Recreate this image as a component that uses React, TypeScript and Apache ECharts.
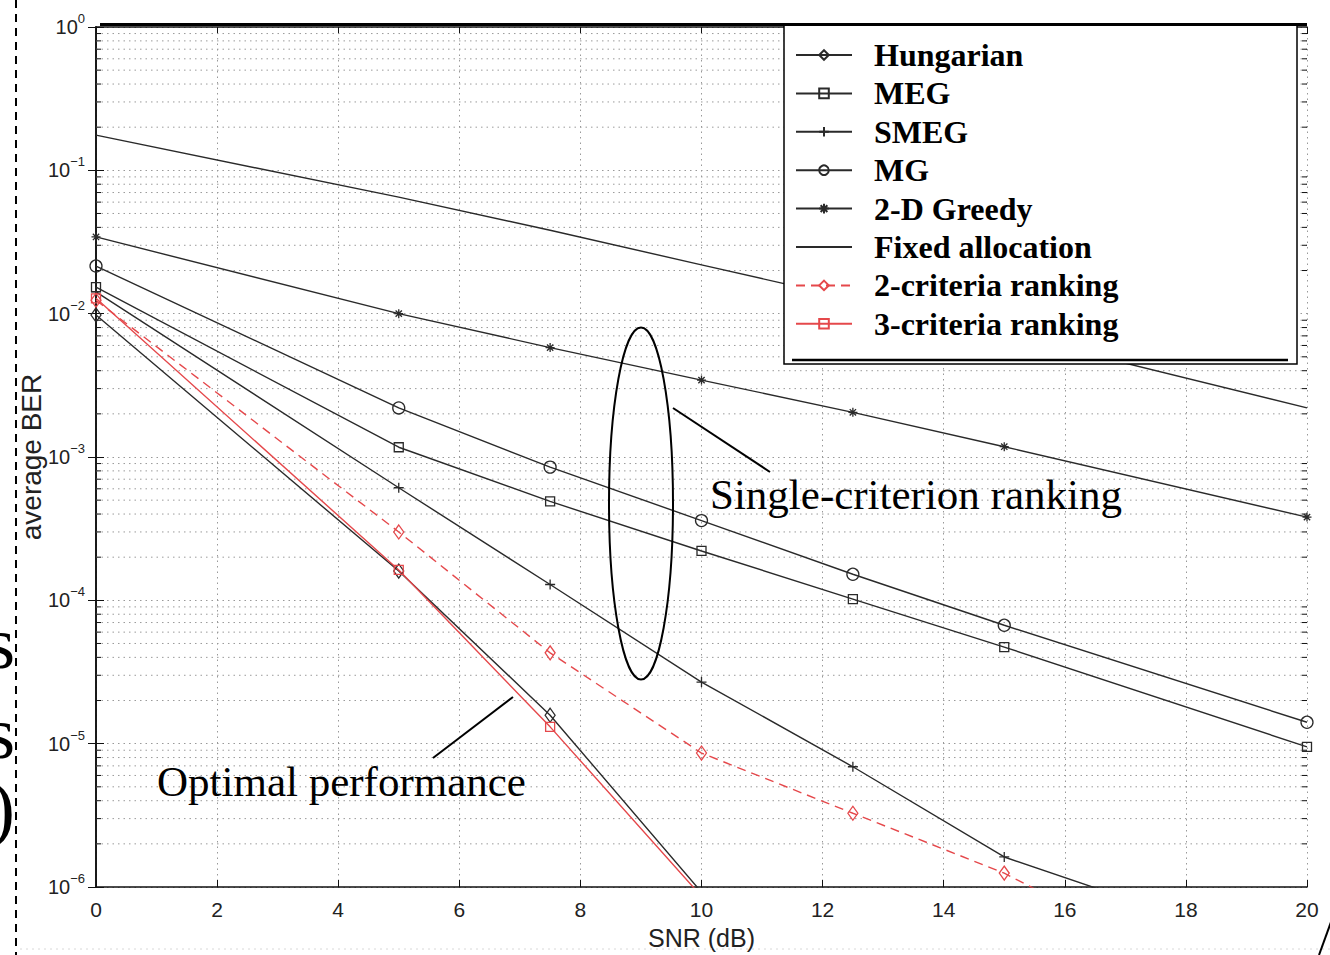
import React, { useEffect, useRef } from "react";
import * as echarts from "echarts";

// SNR sample points (dB)
const snrX = [0, 5, 7.5, 10, 12.5, 15, 20];

// average BER
const hungarian = [9.8e-3, 1.6e-4, 1.58e-5, 9.2e-7];
const meg = [0.0153, 1.17e-3, 4.9e-4, 2.21e-4, 1.02e-4, 4.72e-5, 9.5e-6];
const smeg = [0.0142, 6.1e-4, 1.29e-4, 2.69e-5, 6.9e-6, 1.62e-6, 3.1e-7];
const mg = [0.0215, 2.2e-3, 8.5e-4, 3.6e-4, 1.52e-4, 6.7e-5, 1.41e-5];
const greedy2D = [0.0343, 0.01, 5.8e-3, 3.44e-3, 2.05e-3, 1.18e-3, 3.81e-4];
const fixedAlloc = [0.176, 0.065, 0.0382, 0.0219, 0.0126, 0.0073, 0.0022];
const crit2 = [0.0124, 3.0e-4, 4.3e-5, 8.6e-6, 3.27e-6, 1.25e-6, 1.0e-7];
const crit3 = [0.0128, 1.63e-4, 1.31e-5, 8.6e-7];

const seriesNames = [
  "Hungarian",
  "MEG",
  "SMEG",
  "MG",
  "2-D Greedy",
  "Fixed allocation",
  "2-criteria ranking",
  "3-criteria ranking",
];

// x-axis ticks and log-axis minor grid values
const xTicks = [0, 2, 4, 6, 8, 10, 12, 14, 16, 18, 20];
const decadeExps = [-6, -5, -4, -3, -2, -1];
const minorMultipliers = [2, 3, 4, 5, 6, 7, 8, 9];

const BLACK = "#2a2a2a";
const RED = "#e5484b";

const pair = (vals: number[]) => vals.map((v, i) => [snrX[i], v]);

const plusPath = "path://M0,5L10,5M5,0L5,10";
const starPath = "path://M0,5L10,5M5,0L5,10M1.5,1.5L8.5,8.5M8.5,1.5L1.5,8.5";

export default function App() {
  const ref = useRef<HTMLDivElement>(null);

  useEffect(() => {
    if (!ref.current) return;
    const chart = echarts.init(ref.current, null, { renderer: "svg" });

    const minorVals: number[][] = [];
    decadeExps.forEach((e) =>
      minorMultipliers.forEach((m) => minorVals.push([0, m * Math.pow(10, e)]))
    );

    const hollow = (color: string) => ({
      color: "rgba(255,255,255,0)",
      borderColor: color,
      borderWidth: 1.3,
    });

    const mk = (
      name: string,
      vals: number[],
      color: string,
      symbol: string,
      size: any,
      dashed = false
    ) => ({
      type: "line",
      name,
      data: pair(vals),
      symbol,
      symbolSize: size,
      showSymbol: symbol !== "none",
      lineStyle: { color, width: 1.4, type: dashed ? [9, 6] : "solid" },
      itemStyle: hollow(color),
      z: 3,
      clip: true,
    });

    const axisFont = { fontFamily: "Liberation Sans, Arial, sans-serif", color: "#222" };

    const legendData = seriesNames.map((n) =>
      n === "Fixed allocation"
        ? {
            name: n,
            itemStyle: {
              color: "rgba(0,0,0,0)",
              borderColor: "rgba(0,0,0,0)",
              borderWidth: 0,
            },
          }
        : { name: n }
    );

    const option: any = {
      animation: false,
      backgroundColor: "#fff",
      grid: { left: 96, right: 23, top: 27, bottom: 68 },
      xAxis: [
        {
          type: "value",
          min: 0,
          max: 20,
          interval: 2,
          position: "bottom",
          axisLine: { show: true, lineStyle: { color: "#111", width: 1.6 } },
          axisTick: { inside: true, length: 7, lineStyle: { color: "#111" } },
          axisLabel: {
            ...axisFont,
            fontSize: 21,
            margin: 12,
            formatter: (v: number) => (xTicks.includes(v) ? String(v) : ""),
          },
          splitLine: {
            show: true,
            lineStyle: { color: "#999", width: 1, type: [1.5, 4] },
          },
          name: "SNR (dB)",
          nameLocation: "middle",
          nameGap: 38,
          nameMoveOverlap: false,
          nameTextStyle: { ...axisFont, fontSize: 25 },
        },
        {
          type: "value",
          min: 0,
          max: 20,
          interval: 2,
          position: "top",
          axisLine: { show: true, lineStyle: { color: "#111", width: 1.6 } },
          axisTick: { inside: true, length: 7, lineStyle: { color: "#111" } },
          axisLabel: { show: false },
          splitLine: { show: false },
        },
      ],
      yAxis: [
        {
          type: "log",
          logBase: 10,
          min: 1e-6,
          max: 1,
          splitNumber: 6,
          position: "left",
          axisLine: { show: true, lineStyle: { color: "#111", width: 1.6 } },
          axisTick: { inside: true, length: 8, lineStyle: { color: "#111" } },
          axisLabel: {
            margin: 11,
            formatter: (v: number) => {
              const e = Math.round(Math.log10(v));
              return `{b|10}{s|${e === 0 ? "0" : "\u2212" + -e}}`;
            },
            rich: {
              b: { ...axisFont, fontSize: 20, lineHeight: 30 },
              s: { ...axisFont, fontSize: 13, verticalAlign: "top", lineHeight: 30 },
            },
          },
          splitLine: {
            show: true,
            lineStyle: { color: "#999", width: 1, type: [1.5, 4] },
          },
          name: "average BER",
          nameLocation: "middle",
          nameGap: 51,
          nameMoveOverlap: false,
          nameTextStyle: { ...axisFont, fontSize: 28 },
        },
        {
          type: "log",
          logBase: 10,
          min: 1e-6,
          max: 1,
          splitNumber: 6,
          position: "right",
          axisLine: { show: true, lineStyle: { color: "#111", width: 1.6 } },
          axisTick: { inside: true, length: 8, lineStyle: { color: "#111" } },
          axisLabel: { show: false },
          splitLine: { show: false },
        },
      ],
      legend: {
        data: legendData,
        orient: "vertical",
        left: 790,
        top: 34,
        itemWidth: 56,
        itemHeight: 12,
        itemGap: 6.4,
        selectedMode: false,
        z: 6,
        textStyle: {
          fontFamily: "Liberation Serif, Times New Roman, serif",
          fontWeight: "bold",
          fontSize: 32,
          lineHeight: 32,
          color: "#000",
          padding: [0, 0, 0, 17],
        },
      },
      series: [
        {
          type: "custom",
          name: "minor-grid",
          data: minorVals,
          silent: true,
          z: 1,
          renderItem: (params: any, api: any) => {
            const v = api.value(1);
            const p0 = api.coord([0, v]);
            const p1 = api.coord([20, v]);
            return {
              type: "group",
              children: [
                {
                  type: "line",
                  shape: { x1: p0[0], y1: p0[1], x2: p1[0], y2: p1[1] },
                  style: { stroke: "#9a9a9a", lineWidth: 1, lineDash: [1.5, 4] },
                },
                {
                  type: "line",
                  shape: { x1: p0[0], y1: p0[1], x2: p0[0] + 5, y2: p0[1] },
                  style: { stroke: "#111", lineWidth: 1 },
                },
                {
                  type: "line",
                  shape: { x1: p1[0] - 5, y1: p1[1], x2: p1[0], y2: p1[1] },
                  style: { stroke: "#111", lineWidth: 1 },
                },
              ],
            };
          },
        },
        mk("Hungarian", hungarian, BLACK, "diamond", [10, 14]),
        mk("MEG", meg, BLACK, "rect", 9),
        mk("SMEG", smeg, BLACK, plusPath, 10),
        mk("MG", mg, BLACK, "circle", 12),
        mk("2-D Greedy", greedy2D, BLACK, starPath, 9),
        mk("Fixed allocation", fixedAlloc, BLACK, "none", 0),
        mk("2-criteria ranking", crit2, RED, "diamond", [10, 14], true),
        mk("3-criteria ranking", crit3, RED, "rect", 9),
      ],
      graphic: [
        // legend box
        {
          type: "rect",
          z: 5,
          shape: { x: 784, y: 25, width: 513, height: 339 },
          style: { fill: "#fff", stroke: "#000", lineWidth: 1.5 },
        },
        {
          type: "line",
          z: 5,
          shape: { x1: 792, y1: 360, x2: 1288, y2: 360 },
          style: { stroke: "#000", lineWidth: 2.5 },
        },
        // top border overlay
        {
          type: "line",
          z: 5,
          shape: { x1: 100, y1: 24.5, x2: 1307, y2: 24.5 },
          style: { stroke: "#000", lineWidth: 3 },
        },
        // ellipse annotation
        {
          type: "ellipse",
          z: 7,
          shape: { cx: 641, cy: 503.5, rx: 32, ry: 176 },
          style: { fill: "none", stroke: "#000", lineWidth: 2 },
        },
        {
          type: "line",
          z: 7,
          shape: { x1: 673, y1: 408, x2: 770, y2: 472 },
          style: { stroke: "#000", lineWidth: 2 },
        },
        {
          type: "text",
          z: 7,
          style: {
            x: 710,
            y: 494,
            text: "Single-criterion ranking",
            font: "43px 'Liberation Serif', 'Times New Roman', serif",
            fill: "#000",
            textAlign: "left",
            verticalAlign: "middle",
          },
        },
        {
          type: "line",
          z: 7,
          shape: { x1: 433, y1: 758, x2: 513, y2: 697 },
          style: { stroke: "#000", lineWidth: 2 },
        },
        {
          type: "text",
          z: 7,
          style: {
            x: 157,
            y: 781,
            text: "Optimal performance",
            font: "43px 'Liberation Serif', 'Times New Roman', serif",
            fill: "#000",
            textAlign: "left",
            verticalAlign: "middle",
          },
        },
        // slide fragments on the left
        {
          type: "text",
          z: 7,
          style: {
            x: 15,
            y: 643,
            text: "s",
            font: "74px 'Liberation Serif', serif",
            fill: "#000",
            textAlign: "right",
            verticalAlign: "middle",
          },
        },
        {
          type: "text",
          z: 7,
          style: {
            x: 15,
            y: 733,
            text: "s",
            font: "74px 'Liberation Serif', serif",
            fill: "#000",
            textAlign: "right",
            verticalAlign: "middle",
          },
        },
        {
          type: "text",
          z: 7,
          style: {
            x: 15,
            y: 808,
            text: ")",
            font: "74px 'Liberation Serif', serif",
            fill: "#000",
            textAlign: "right",
            verticalAlign: "middle",
          },
        },
        {
          type: "rect",
          z: 6,
          shape: { x: 0, y: 680, width: 16, height: 38 },
          style: { fill: "#fff" },
        },
        {
          type: "line",
          z: 8,
          shape: { x1: 16, y1: 0, x2: 16, y2: 955 },
          style: { stroke: "#000", lineWidth: 2, lineDash: [8, 6] },
        },
        {
          type: "line",
          z: 8,
          shape: { x1: 20, y1: 949, x2: 1330, y2: 949 },
          style: { stroke: "#d8d8d8", lineWidth: 1, lineDash: [2, 4] },
        },
        {
          type: "line",
          z: 8,
          shape: { x1: 1331, y1: 922, x2: 1319, y2: 955 },
          style: { stroke: "#000", lineWidth: 2 },
        },
      ],
    };

    chart.setOption(option);
    return () => chart.dispose();
  }, []);

  return (
    <div
      ref={ref}
      style={{ position: "absolute", left: 0, top: 0, width: 1330, height: 955 }}
    />
  );
}
